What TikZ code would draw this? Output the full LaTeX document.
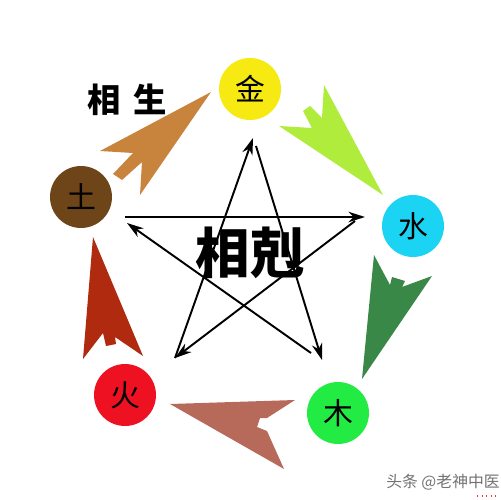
\documentclass[tikz,border=0pt]{standalone}
\usepackage{fontspec}
\newfontfamily\cjk{Noto Sans CJK SC}
\usetikzlibrary{arrows.meta,positioning,calc}

\definecolor{jincol}{HTML}{F7EA12}
\definecolor{shuicol}{HTML}{1BD3F2}
\definecolor{mucol}{HTML}{22EC44}
\definecolor{huocol}{HTML}{EE1122}
\definecolor{tucol}{HTML}{6E4419}
\definecolor{tujin}{HTML}{C8843C}
\definecolor{jinshui}{HTML}{B0EC3C}
\definecolor{shuimu}{HTML}{3A8848}
\definecolor{muhuo}{HTML}{B86A5A}
\definecolor{huotu}{HTML}{B02A10}

\tikzset{
  element/.style={circle,inner sep=0pt,minimum size=1.24cm,font=\cjk\fontsize{17}{17}\selectfont},
  kearrow/.style={line width=1.1pt,-{Stealth[length=9.5pt,width=6pt,inset=3pt]}},
  title/.style={font=\cjk\bfseries\fontsize{19}{19}\selectfont}
}

\begin{document}
\begin{tikzpicture}[x=0.02cm,y=-0.02cm]
			\useasboundingbox[fill=white] (0,0) rectangle (500,500);
			
			% The five elements
			\node[element,fill=jincol] (jin) at (250,89) {金};
			\node[element,fill=shuicol] (shui) at (413,226) {水};
			\node[element,fill=mucol] (mu) at (338,413) {木};
			\node[element,fill=huocol] (huo) at (125,395) {火};
			\node[element,fill=tucol] (tu) at (81,197) {土};
			
			% Sheng cycle - big arrows
			\fill[tujin] (211,92) -- (100,151) -- (133,153) -- (113,174) -- (122,180) -- (142,162) -- (140,195) -- cycle;
			\fill[jinshui] (383,195) -- (279,126) -- (312,128) -- (303,111) -- (310,106) -- (322,118) -- (324,85) -- cycle;
			\fill[shuimu] (362,379) -- (374,255) -- (390,285) -- (392,277) -- (405,281) -- (402,287) -- (432,276) -- cycle;
			\fill[muhuo] (170,404) -- (295,400) -- (267,418) -- (260,418) -- (257,427) -- (267,431) -- (284,469) -- cycle;
			\fill[huotu] (93,237) -- (143,356) -- (115,337) -- (116,344) -- (106,346) -- (103,333) -- (83,359) -- cycle;
			\node[title] (sheng) at (127,100) {相\hspace{7pt}生};
			
			% Ke cycle - star
			\coordinate (t) at (253,138);
			\coordinate (t2) at (256,146);
			\coordinate (r) at (365,217);
			\coordinate (r2) at (355,221);
			\coordinate (br) at (322,360);
			\coordinate (br2) at (311,353);
			\coordinate (bl) at (175,358);
			\coordinate (l) at (125,217);
			\coordinate (l2) at (127,223);
			\draw[kearrow] (t2) -- (br);
			\draw[kearrow] (br2) -- (l2);
			\draw[kearrow] (l) -- (r);
			\draw[kearrow] (r2) -- (bl);
			\draw[kearrow] (bl) -- (t);
			\node[font=\cjk\bfseries\fontsize{31}{31}\selectfont] (ke) at (250,253) {相剋};
			
			% Watermark
			\node[font=\cjk\fontsize{9}{9}\selectfont,text=black!55] (mark) at (443,482) {头条 @老神中医};
			\draw[red!80,line width=0.6pt,dotted] (477,496) -- (497,496);
		\end{tikzpicture}
\end{document}
